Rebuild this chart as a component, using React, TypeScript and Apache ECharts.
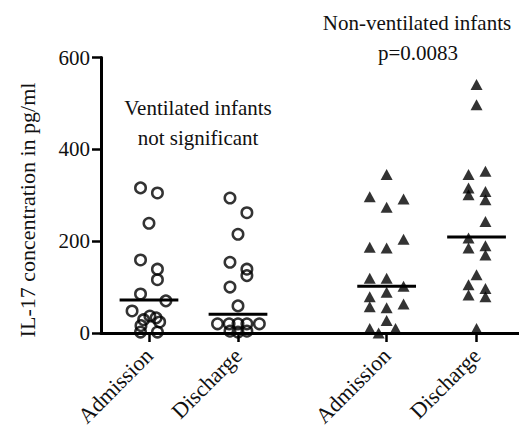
import React, { useEffect, useRef } from "react";
import * as echarts from "echarts";

// Category names and their positions on the x scale (GraphPad-style gap between pairs)
const groupNames = ["Admission", "Discharge", "Admission", "Discharge"];
const groupX = [1, 2, 3.67, 4.68];

// IL-17 (pg/ml) values, with horizontal jitter (in group units)
const ventAdmission = [316, 305, 239, 159, 139, 116, 85, 70, 48, 37, 33, 29, 24, 16, 2, 2];
const ventAdmissionJitter = [-0.095, 0.095, 0, -0.095, 0.095, 0.095, -0.095, 0.19, -0.19, 0.01, 0.08, -0.06, 0.12, -0.09, -0.095, 0.095];

const ventDischarge = [294, 262, 215, 154, 139, 125, 100, 59, 20, 20, 20, 20, 20, 4, 2, 4];
const ventDischargeJitter = [-0.09, 0.1, 0, -0.09, 0.1, 0.1, -0.09, 0, -0.23, -0.1, 0, 0.1, 0.24, -0.09, 0, 0.1];

const nonVentAdmission = [345, 297, 292, 274, 204, 187, 185, 119, 119, 102, 89, 79, 63, 57, 55, 27, 10, 10, 0];
const nonVentAdmissionJitter = [0, -0.19, 0.19, 0, 0.19, -0.19, 0, -0.19, 0, 0.19, 0, -0.19, 0.19, -0.19, 0, 0, -0.19, 0.1, -0.09];

const nonVentDischarge = [541, 497, 352, 345, 316, 308, 301, 290, 243, 207, 190, 185, 170, 127, 105, 97, 83, 79, 10];
const nonVentDischargeJitter = [0, 0, 0.1, -0.09, -0.09, 0.1, -0.09, 0.1, 0.1, -0.09, 0.1, -0.09, 0.1, 0, -0.09, 0.1, -0.09, 0.1, 0];

const medians = [72, 41, 102, 209];
const yTicks = [0, 200, 400, 600];

const FONT = "Liberation Serif";
const INK = "#000";

function points(g: number, vals: number[], jit: number[]) {
  return vals.map((v, i) => [groupX[g] + jit[i], v]);
}

function label(text: string, x: number, y: number, size = 21, rotation = 0) {
  return {
    type: "text",
    x,
    y,
    rotation,
    style: {
      text,
      x: 0,
      y: 0,
      align: "center",
      verticalAlign: "middle",
      fontFamily: FONT,
      fontSize: size,
      fill: "#111",
    },
  };
}

export default function App() {
  const ref = useRef<HTMLDivElement>(null);

  useEffect(() => {
    if (!ref.current) return;
    const chart = echarts.init(ref.current, null, { renderer: "svg" });

    const circleStyle = {
      color: "rgba(0,0,0,0)",
      borderColor: INK,
      borderWidth: 2.5,
    };
    const triStyle = { color: INK };

    chart.setOption({
      animation: false,
      backgroundColor: "#fff",
      grid: { left: 101, right: 0, top: 57.5, bottom: 100, containLabel: false },
      xAxis: {
        type: "value",
        min: 0.461,
        max: 5.157,
        splitLine: { show: false },
        axisLine: { show: true, onZero: false, lineStyle: { color: INK, width: 3 } },
        axisTick: {
          show: true,
          customValues: groupX,
          length: 9,
          lineStyle: { color: INK, width: 2.5 },
        },
        axisLabel: {
          customValues: groupX,
          rotate: 45,
          margin: 19,
          fontFamily: FONT,
          fontSize: 22,
          color: "#111",
          formatter: (v: number) => {
            const i = groupX.findIndex((p) => Math.abs(p - v) < 1e-6);
            return i >= 0 ? groupNames[i] : "";
          },
        },
      },
      yAxis: {
        type: "value",
        min: 0,
        max: 600,
        interval: 200,
        splitLine: { show: false },
        axisLine: { show: true, lineStyle: { color: INK, width: 3 } },
        axisTick: { show: true, length: 9, lineStyle: { color: INK, width: 2.5 } },
        axisLabel: {
          margin: 11,
          fontFamily: FONT,
          fontSize: 21,
          color: "#111",
          formatter: (v: number) => (yTicks.includes(v) ? String(v) : ""),
        },
      },
      series: [
        {
          type: "scatter",
          symbol: "circle",
          symbolSize: 10.5,
          itemStyle: circleStyle,
          data: points(0, ventAdmission, ventAdmissionJitter),
        },
        {
          type: "scatter",
          symbol: "circle",
          symbolSize: 10.5,
          itemStyle: circleStyle,
          data: points(1, ventDischarge, ventDischargeJitter),
        },
        {
          type: "scatter",
          symbol: "triangle",
          symbolSize: [12, 11],
          itemStyle: triStyle,
          data: points(2, nonVentAdmission, nonVentAdmissionJitter),
        },
        {
          type: "scatter",
          symbol: "triangle",
          symbolSize: [12, 11],
          itemStyle: triStyle,
          data: points(3, nonVentDischarge, nonVentDischargeJitter),
        },
        {
          type: "custom",
          z: 5,
          data: medians.map((m, i) => [groupX[i], m]),
          renderItem: (params: any, api: any) => {
            const c = api.coord([api.value(0), api.value(1)]);
            const half = api.size([0.33, 0])[0];
            return {
              type: "line",
              shape: { x1: c[0] - half, y1: c[1], x2: c[0] + half, y2: c[1] },
              style: { stroke: INK, lineWidth: 3 },
            };
          },
        },
      ],
      graphic: [
        label("IL-17 concentration in pg/ml", 27, 210, 22, Math.PI / 2),
        label("Non-ventilated infants", 417, 23),
        label("p=0.0083", 418, 53),
        label("Ventilated infants", 198, 108),
        label("not significant", 198, 138),
      ],
    });

    return () => chart.dispose();
  }, []);

  return (
    <div
      ref={ref}
      style={{ position: "fixed", left: 0, top: 0, width: 519, height: 433, background: "#fff" }}
    />
  );
}
